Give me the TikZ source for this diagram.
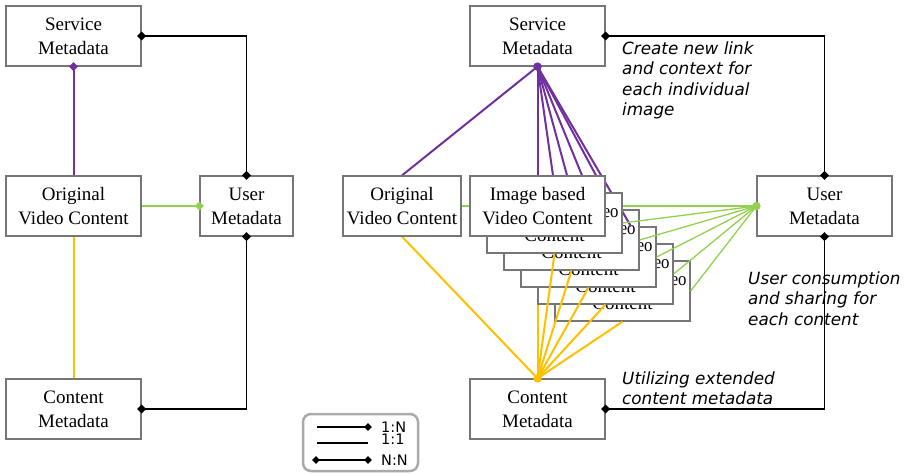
\documentclass[tikz,border=0pt]{standalone}
\usepackage{fontspec}
\usepackage{graphicx}
\setmainfont{Liberation Serif}
\newfontfamily\notesans{DejaVu Sans}
\usetikzlibrary{shapes.geometric}
\definecolor{boxgray}{RGB}{118,118,118}
\definecolor{leggray}{RGB}{170,170,170}
\definecolor{cpurple}{RGB}{112,48,160}
\definecolor{cgreen}{RGB}{146,208,80}
\definecolor{cyellow}{RGB}{255,192,0}
\newcommand{\bxfont}{\fontsize{19}{24}\selectfont}
\newcommand{\ntfont}{\notesans\itshape\fontsize{16.8}{20.5}\selectfont}
\newcommand{\lgfont}{\notesans\fontsize{14.5}{16}\selectfont}
\pgfdeclarelayer{under}
\pgfdeclarelayer{L6}\pgfdeclarelayer{L5}\pgfdeclarelayer{L4}
\pgfdeclarelayer{L3}\pgfdeclarelayer{L2}\pgfdeclarelayer{L1}
\pgfdeclarelayer{marks}
\pgfsetlayers{under,L6,L5,L4,L3,L2,L1,main,marks}
\tikzset{
  box/.style={draw=boxgray, line width=1.2pt, fill=white, minimum width=135pt,
    minimum height=60pt, inner sep=0pt, align=center, font=\bxfont},
  blk/.style={draw=black, line width=1.8pt},
  pl/.style={draw=cpurple, line width=2pt},
  yl/.style={draw=cyellow, line width=2pt},
  gl/.style={draw=cgreen, line width=2pt},
  glthin/.style={draw=cgreen, line width=1.3pt},
  dmk/.style={diamond, fill=#1, inner sep=0pt, minimum width=9pt, minimum height=9pt},
  dmk/.default=black,
  dotmk/.style={circle, fill=#1, inner sep=0pt, minimum size=8.5pt},
  note/.style={anchor=north west, inner sep=0pt, align=left, font=\ntfont},
  legtxt/.style={anchor=west, inner sep=0pt, font=\lgfont}
}
\begin{document}
\begin{tikzpicture}[x=1pt, y=-1pt]
\useasboundingbox (0,0) rectangle (905,474);

% ---------------- left diagram ----------------
\node[box] (svcL) at (73.5,36) {Service\\Metadata};
\node[box] (origL) at (73.5,206) {Original\\Video Content};
\node[box, minimum width=93pt] (usrL) at (246.5,206) {User\\Metadata};
\node[box] (cntL) at (73.5,409) {Content\\Metadata};

\draw[pl] (origL.north) -- (svcL.south);
\draw[gl] (origL.east) -- (usrL.west);
\draw[yl] (origL.south) -- (cntL.north);
\draw[blk] (svcL.east) -| (usrL.north);
\draw[blk] (usrL.south) |- (cntL.east);

\begin{pgfonlayer}{marks}
\node[dmk=cpurple] (mLp) at (svcL.south) {};
\node[dmk=cgreen] (mLg) at (usrL.west) {};
\node[dmk] (mL1) at (svcL.east) {};
\node[dmk] (mL2) at (usrL.north) {};
\node[dmk] (mL3) at (usrL.south) {};
\node[dmk] (mL4) at (cntL.east) {};
\end{pgfonlayer}

% ---------------- right diagram ----------------
\node[box] (svcR) at (537.5,36) {Service\\Metadata};
\node[box, minimum width=118pt] (origR) at (402,206) {Original\\Video Content};
\node[box] (usrR) at (824.5,206) {User\\Metadata};
\node[box] (cntR) at (537.5,409) {Content\\Metadata};

\begin{pgfonlayer}{L1}
\node[box] (st1) at (537.5,206) {Image based\\Video Content};
\end{pgfonlayer}
\foreach \k in {2,...,6}{
  \begin{pgfonlayer}{L\k}
  \node[box] (st\k) at ({537.5+17*(\k-1)},{206+17*(\k-1)})
    {\scalebox{0.88}[1]{Image based Video}\\Content};
  \end{pgfonlayer}
}

\begin{pgfonlayer}{under}
\draw[pl] (svcR.south) -- (origR.north);
\draw[yl] (cntR.north) -- (origR.south);
\draw[glthin] (usrR.west) -- (origR.east);
\draw[glthin] (usrR.west) -- (st1.east);
\draw[yl] (cntR.north) -- (st1.south);
\foreach \s in {0,15.5,29.5,44.5,58.5}{
  \draw[pl] (svcR.south) -- ([xshift=\s pt]st1.north);
}
\end{pgfonlayer}

\foreach \k in {2,...,6}{
  \begin{pgfonlayer}{L\k}
  \draw[glthin] (usrR.west) -- (st\k.east);
  \draw[yl] (cntR.north) -- (st\k.south);
  \end{pgfonlayer}
}
\begin{pgfonlayer}{L3}
\draw[pl] (svcR.south) -- ([shift={(59.5,17)}]st3.north);
\end{pgfonlayer}

\draw[blk] (svcR.east) -| (usrR.north);
\draw[blk] (usrR.south) |- (cntR.east);

\begin{pgfonlayer}{marks}
\node[dotmk=cpurple] (mRp) at (svcR.south) {};
\node[dotmk=cgreen] (mRg) at (usrR.west) {};
\node[dotmk=cyellow] (mRy) at (cntR.north) {};
\node[dmk] (mR1) at (svcR.east) {};
\node[dmk] (mR2) at (usrR.north) {};
\node[dmk] (mR3) at (usrR.south) {};
\node[dmk] (mR4) at (cntR.east) {};
\end{pgfonlayer}

% notes
\node[note] (n1) at (622,41.5) {Create new link\\and context for\\each individual\\image};
\node[note] (n2) at (748,271.5) {User consumption\\and sharing for\\each content};
\node[note] (n3) at (622,371.5) {Utilizing extended\\content metadata};

% ---------------- legend ----------------
\node[draw=leggray, line width=2.5pt, rounded corners=8pt, minimum width=115pt,
      minimum height=57pt, inner sep=0pt] (leg) at (360.5,442.5) {};
\coordinate (a1) at (317,427); \coordinate (b1) at (368,427);
\coordinate (a2) at (317,443); \coordinate (b2) at (368,443);
\coordinate (a3) at (316,460); \coordinate (b3) at (368,460);
\draw[draw=black, line width=1.5pt] (a1) -- (b1);
\draw[draw=black, line width=1.5pt] (a2) -- (b2);
\draw[draw=black, line width=1.5pt] (a3) -- (b3);
\node[dmk, minimum width=8pt, minimum height=8pt] (lg1) at (b1) {};
\node[dmk, minimum width=8pt, minimum height=8pt] (lg2) at (a3) {};
\node[dmk, minimum width=8pt, minimum height=8pt] (lg3) at (b3) {};
\node[legtxt] (t1) at (381,427) {1:N};
\node[legtxt] (t2) at (381,439.5) {1:1};
\node[legtxt] (t3) at (381,460) {N:N};
\end{tikzpicture}
\end{document}
